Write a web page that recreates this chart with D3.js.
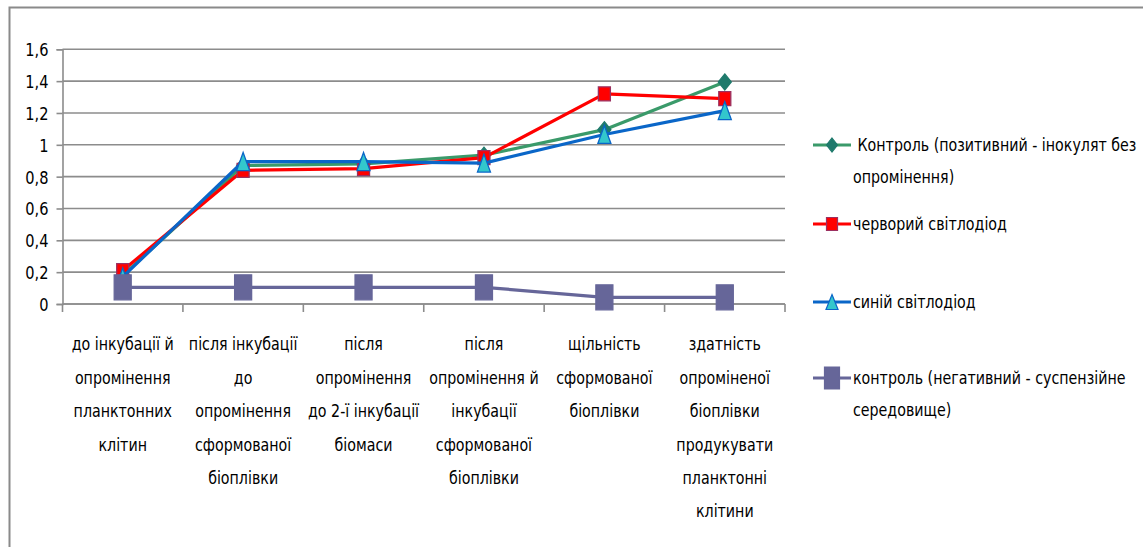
<!DOCTYPE html>
<html>
<head>
<meta charset="utf-8">
<script src="https://cdn.jsdelivr.net/npm/d3@7"></script>
<style>
  html, body { margin: 0; padding: 0; background: #fff; }
  svg { display: block; }
  text { font-family: "Liberation Sans Narrow", "DejaVu Sans Condensed", "Liberation Sans", sans-serif; fill: #000; }
</style>
</head>
<body>
<svg id="chart" width="1143" height="547"></svg>
<script>
// Stage categories (multi-line tick labels)
const categories = [
  ["до інкубації й", "опромінення", "планктонних", "клітин"],
  ["після інкубації", "до", "опромінення", "сформованої", "біоплівки"],
  ["після", "опромінення", "до 2-ї інкубації", "біомаси"],
  ["після", "опромінення й", "інкубації", "сформованої", "біоплівки"],
  ["щільність", "сформованої", "біоплівки"],
  ["здатність", "опроміненої", "біоплівки", "продукувати", "планктонні", "клітини"]
];

// Series values
const positiveControl = [0.18, 0.87, 0.88, 0.935, 1.095, 1.395];
const redLed          = [0.21, 0.84, 0.85, 0.92, 1.32, 1.29];
const blueLed         = [0.17, 0.895, 0.895, 0.885, 1.065, 1.215];
const negativeControl = [0.105, 0.105, 0.105, 0.105, 0.042, 0.042];

const yTicks = [0, 0.2, 0.4, 0.6, 0.8, 1, 1.2, 1.4, 1.6];

const seriesNames = [
  [" Контроль (позитивний - інокулят без", "опромінення)"],
  ["черворий світлодіод"],
  ["синій світлодіод"],
  ["контроль (негативний - суспензійне", "середовище)"]
];

const series = [
  { values: positiveControl, line: "#3a9a6a", marker: "diamond", fill: "#1f7a6c", stroke: "#1f7a6c", mw: 13, mh: 16 },
  { values: redLed,          line: "#ff0000", marker: "square",  fill: "#ff0000", stroke: "#9b3060", mw: 12, mh: 14 },
  { values: blueLed,         line: "#0a66c8", marker: "triangle",fill: "#33c7cc", stroke: "#0a66c8", mw: 13, mh: 18 },
  { values: negativeControl, line: "#666699", marker: "square",  fill: "#666699", stroke: "#666699", mw: 17, mh: 25 }
];

// Tall, narrow label text: larger size compressed horizontally
const labelSize = 18.5;
const textSquash = 0.855;

const svg = d3.select("#chart");

// Outer frame (top and left edges visible)
svg.append("rect")
  .attr("x", 9.5).attr("y", 7.5)
  .attr("width", 1200).attr("height", 600)
  .attr("fill", "none").attr("stroke", "#8a8a8a").attr("stroke-width", 2);

const plot = { left: 62.5, right: 785, top: 49.3, bottom: 304 };

const x = d3.scaleBand()
  .domain(d3.range(categories.length))
  .range([plot.left, plot.right]);

const y = d3.scaleLinear()
  .domain([0, 1.6])
  .range([plot.bottom, plot.top]);

// Horizontal gridlines
svg.append("g")
  .selectAll("line")
  .data(yTicks)
  .join("line")
  .attr("x1", plot.left).attr("x2", plot.right)
  .attr("y1", d => y(d)).attr("y2", d => y(d))
  .attr("stroke", "#8c8c8c").attr("stroke-width", 1.6);

// Y axis
const yAxis = svg.append("g")
  .attr("transform", `translate(${plot.left},0)`)
  .call(d3.axisLeft(y).tickValues(yTicks).tickSize(6).tickPadding(0)
    .tickFormat(d => d3.format("~g")(d).replace(".", ",")));
yAxis.select(".domain").attr("stroke", "#8c8c8c").attr("stroke-width", 1.6);
yAxis.selectAll(".tick line").attr("stroke", "#8c8c8c").attr("stroke-width", 1.6);
yAxis.selectAll(".tick text")
  .attr("x", 0)
  .attr("dy", "0.36em")
  .attr("font-size", 18)
  .attr("transform", `translate(-14,0) scale(0.9,1)`)
  .style("font-family", "'Liberation Sans Narrow', 'DejaVu Sans Condensed', sans-serif");

// X axis with category boundary ticks
const xAxis = svg.append("g")
  .attr("transform", `translate(0,${plot.bottom})`);
xAxis.append("line")
  .attr("x1", plot.left).attr("x2", plot.right)
  .attr("stroke", "#8c8c8c").attr("stroke-width", 1.6);
const boundaries = d3.range(categories.length + 1).map(i => i < categories.length ? x(i) : plot.right);
xAxis.selectAll("line.b")
  .data(boundaries)
  .join("line")
  .attr("class", "b")
  .attr("x1", d => d).attr("x2", d => d)
  .attr("y1", 0).attr("y2", 8)
  .attr("stroke", "#8c8c8c").attr("stroke-width", 1.6);

// Category labels
const catLabels = svg.append("g");
categories.forEach((lines, i) => {
  const cx = x(i) + x.bandwidth() / 2;
  const t = catLabels.append("text")
    .attr("transform", `translate(${cx},0) scale(${textSquash},1)`)
    .attr("text-anchor", "middle")
    .attr("font-size", labelSize);
  lines.forEach((ln, j) => {
    t.append("tspan")
      .attr("x", 0)
      .attr("y", 350.5 + j * 33.4)
      .text(ln);
  });
});

// Marker shapes (width/height independent)
function markerPath(type, w, h) {
  const hw = w / 2, hh = h / 2;
  if (type === "diamond") return `M0,${-hh}L${hw},0L0,${hh}L${-hw},0Z`;
  if (type === "triangle") return `M0,${-hh}L${hw},${hh}L${-hw},${hh}Z`;
  return `M${-hw},${-hh}H${hw}V${hh}H${-hw}Z`;
}

const line = d3.line()
  .x((d, i) => x(i) + x.bandwidth() / 2)
  .y(d => y(d));

series.forEach(s => {
  const g = svg.append("g");
  g.append("path")
    .attr("d", line(s.values))
    .attr("fill", "none")
    .attr("stroke", s.line)
    .attr("stroke-width", 3.2)
    .attr("stroke-linejoin", "round");
  g.selectAll("path.m")
    .data(s.values)
    .join("path")
    .attr("class", "m")
    .attr("transform", (d, i) => `translate(${x(i) + x.bandwidth() / 2},${y(d)})`)
    .attr("d", markerPath(s.marker, s.mw, s.mh))
    .attr("fill", s.fill)
    .attr("stroke", s.stroke)
    .attr("stroke-width", 1.3);
});

// Legend
const legendRows = [145, 224, 302, 378];
const legendMarker = [
  { w: 11, h: 14 }, { w: 11, h: 13 }, { w: 12, h: 15 }, { w: 15, h: 22 }
];
const legend = svg.append("g");
series.forEach((s, i) => {
  const ry = legendRows[i];
  legend.append("line")
    .attr("x1", 813).attr("x2", 851)
    .attr("y1", ry).attr("y2", ry)
    .attr("stroke", s.line).attr("stroke-width", 3.2);
  legend.append("path")
    .attr("transform", `translate(832,${ry})`)
    .attr("d", markerPath(s.marker, legendMarker[i].w, legendMarker[i].h))
    .attr("fill", s.fill)
    .attr("stroke", s.stroke)
    .attr("stroke-width", 1.2);
  const t = legend.append("text")
    .attr("transform", `translate(853,0) scale(${textSquash},1)`)
    .attr("font-size", labelSize)
    .attr("xml:space", "preserve");
  seriesNames[i].forEach((ln, j) => {
    t.append("tspan")
      .attr("x", 0)
      .attr("y", ry + 6.5 + j * 32)
      .text(ln);
  });
});
</script>
</body>
</html>
